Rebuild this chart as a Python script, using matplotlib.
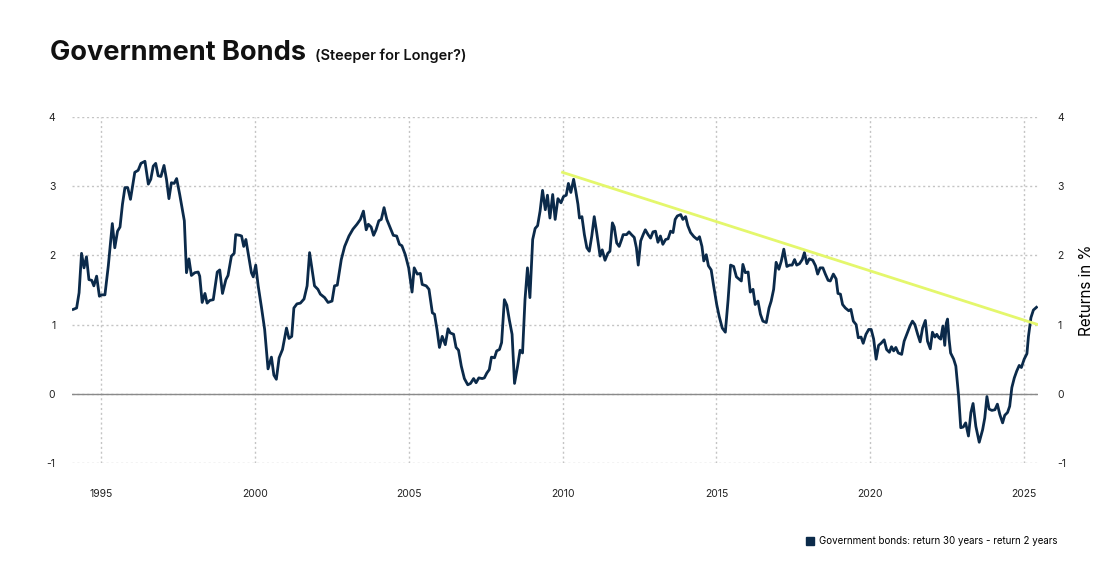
import matplotlib
matplotlib.use("Agg")
import matplotlib.pyplot as plt
from matplotlib.lines import Line2D

plt.rcParams['font.family'] = ['Inter', 'DejaVu Sans']
plt.rcParams['axes.unicode_minus'] = False

# spread 30y - 2y government bond returns (decimal years)
years = [
    1994.10, 1994.21, 1994.29, 1994.37, 1994.45, 1994.53, 1994.61, 1994.70, 1994.77, 1994.86,
    1994.95, 1995.02, 1995.13, 1995.24, 1995.37, 1995.45, 1995.54, 1995.62, 1995.70, 1995.78,
    1995.87, 1995.96, 1996.10, 1996.21, 1996.30, 1996.43, 1996.54, 1996.62, 1996.70, 1996.78,
    1996.86, 1996.95, 1997.05, 1997.13, 1997.21, 1997.29, 1997.38, 1997.46, 1997.56, 1997.71,
    1997.78, 1997.86, 1997.94, 1998.05, 1998.16, 1998.21, 1998.29, 1998.38, 1998.45, 1998.54,
    1998.65, 1998.78, 1998.86, 1998.95, 1999.06, 1999.13, 1999.24, 1999.33, 1999.38, 1999.51,
    1999.57, 1999.64, 1999.71, 1999.82, 1999.89, 1999.95, 2000.03, 2000.11, 2000.22, 2000.32,
    2000.43, 2000.54, 2000.62, 2000.70, 2000.79, 2000.90, 2001.03, 2001.11, 2001.20, 2001.27,
    2001.37, 2001.48, 2001.60, 2001.70, 2001.78, 2001.87, 2001.94, 2002.05, 2002.13, 2002.27,
    2002.38, 2002.51, 2002.59, 2002.68, 2002.81, 2002.92, 2003.06, 2003.19, 2003.32, 2003.43,
    2003.53, 2003.62, 2003.69, 2003.78, 2003.86, 2003.94, 2004.03, 2004.11, 2004.20, 2004.29,
    2004.40, 2004.50, 2004.61, 2004.70, 2004.78, 2004.89, 2005.00, 2005.11, 2005.18, 2005.28,
    2005.38, 2005.44, 2005.57, 2005.66, 2005.77, 2005.84, 2005.92, 2006.00, 2006.09, 2006.19,
    2006.28, 2006.35, 2006.46, 2006.54, 2006.62, 2006.71, 2006.81, 2006.92, 2007.01, 2007.11,
    2007.19, 2007.28, 2007.39, 2007.46, 2007.54, 2007.62, 2007.69, 2007.79, 2007.86, 2007.95,
    2008.02, 2008.11, 2008.19, 2008.27, 2008.36, 2008.44, 2008.54, 2008.62, 2008.70, 2008.78,
    2008.86, 2008.94, 2009.03, 2009.11, 2009.19, 2009.27, 2009.35, 2009.44, 2009.51, 2009.59,
    2009.68, 2009.76, 2009.85, 2009.95, 2010.03, 2010.12, 2010.19, 2010.27, 2010.36, 2010.43,
    2010.50, 2010.55, 2010.63, 2010.71, 2010.79, 2010.87, 2010.95, 2011.03, 2011.11, 2011.22,
    2011.29, 2011.38, 2011.47, 2011.54, 2011.62, 2011.68, 2011.76, 2011.84, 2011.92, 2011.97,
    2012.08, 2012.16, 2012.24, 2012.33, 2012.40, 2012.46, 2012.54, 2012.62, 2012.69, 2012.78,
    2012.86, 2012.94, 2013.02, 2013.10, 2013.18, 2013.26, 2013.35, 2013.43, 2013.51, 2013.59,
    2013.66, 2013.73, 2013.84, 2013.91, 2014.00, 2014.07, 2014.16, 2014.27, 2014.38, 2014.45,
    2014.53, 2014.59, 2014.67, 2014.74, 2014.83, 2014.91, 2015.01, 2015.09, 2015.19, 2015.29,
    2015.38, 2015.46, 2015.56, 2015.65, 2015.73, 2015.81, 2015.86, 2015.94, 2016.03, 2016.10,
    2016.19, 2016.26, 2016.35, 2016.43, 2016.51, 2016.62, 2016.71, 2016.78, 2016.86, 2016.94,
    2017.03, 2017.11, 2017.19, 2017.29, 2017.38, 2017.46, 2017.54, 2017.61, 2017.70, 2017.79,
    2017.86, 2017.94, 2018.02, 2018.13, 2018.22, 2018.29, 2018.37, 2018.46, 2018.54, 2018.63,
    2018.70, 2018.80, 2018.89, 2018.95, 2019.03, 2019.10, 2019.19, 2019.30, 2019.37, 2019.45,
    2019.54, 2019.61, 2019.70, 2019.77, 2019.86, 2019.95, 2020.03, 2020.11, 2020.19, 2020.27,
    2020.35, 2020.45, 2020.53, 2020.62, 2020.69, 2020.76, 2020.83, 2020.91, 2021.02, 2021.10,
    2021.21, 2021.29, 2021.37, 2021.45, 2021.54, 2021.62, 2021.70, 2021.79, 2021.86, 2021.95,
    2022.02, 2022.10, 2022.16, 2022.23, 2022.29, 2022.36, 2022.42, 2022.47, 2022.51, 2022.56,
    2022.61, 2022.71, 2022.78, 2022.87, 2022.94, 2023.02, 2023.10, 2023.19, 2023.27, 2023.34,
    2023.43, 2023.54, 2023.65, 2023.72, 2023.79, 2023.86, 2023.95, 2024.05, 2024.13, 2024.21,
    2024.30, 2024.37, 2024.46, 2024.53, 2024.60, 2024.68, 2024.76, 2024.84, 2024.91, 2025.00,
    2025.09, 2025.14, 2025.22, 2025.30, 2025.40,
]
spread = [
    1.22, 1.24, 1.46, 2.03, 1.82, 1.98, 1.65, 1.64, 1.56, 1.70,
    1.41, 1.43, 1.43, 1.85, 2.46, 2.11, 2.35, 2.41, 2.74, 2.98,
    2.98, 2.81, 3.20, 3.23, 3.33, 3.36, 3.03, 3.10, 3.29, 3.33,
    3.15, 3.14, 3.30, 3.10, 2.82, 3.05, 3.04, 3.11, 2.88, 2.50,
    1.75, 1.95, 1.71, 1.75, 1.76, 1.70, 1.32, 1.45, 1.31, 1.35,
    1.36, 1.76, 1.79, 1.45, 1.65, 1.71, 1.99, 2.03, 2.30, 2.29,
    2.28, 2.13, 2.23, 1.94, 1.75, 1.69, 1.86, 1.56, 1.24, 0.93,
    0.36, 0.53, 0.27, 0.21, 0.52, 0.64, 0.95, 0.80, 0.83, 1.24,
    1.30, 1.31, 1.37, 1.56, 2.04, 1.77, 1.56, 1.51, 1.44, 1.39,
    1.32, 1.34, 1.56, 1.57, 1.94, 2.13, 2.28, 2.38, 2.45, 2.52,
    2.64, 2.37, 2.45, 2.41, 2.29, 2.37, 2.50, 2.52, 2.69, 2.52,
    2.40, 2.29, 2.28, 2.16, 2.14, 2.01, 1.82, 1.47, 1.82, 1.73,
    1.74, 1.58, 1.56, 1.51, 1.17, 1.15, 0.93, 0.67, 0.83, 0.71,
    0.94, 0.88, 0.86, 0.67, 0.63, 0.40, 0.22, 0.13, 0.15, 0.22,
    0.16, 0.23, 0.22, 0.23, 0.30, 0.35, 0.53, 0.52, 0.62, 0.64,
    0.74, 1.36, 1.28, 1.07, 0.86, 0.15, 0.40, 0.63, 0.59, 1.36,
    1.82, 1.39, 2.23, 2.39, 2.43, 2.64, 2.94, 2.66, 2.87, 2.54,
    2.88, 2.52, 2.82, 2.76, 2.85, 2.87, 3.04, 2.91, 3.10, 2.93,
    2.74, 2.54, 2.56, 2.30, 2.11, 2.06, 2.28, 2.56, 2.33, 1.99,
    2.08, 1.93, 2.03, 2.06, 2.47, 2.41, 2.18, 2.13, 2.23, 2.30,
    2.30, 2.34, 2.30, 2.26, 2.11, 1.86, 2.21, 2.30, 2.37, 2.30,
    2.25, 2.34, 2.35, 2.19, 2.28, 2.16, 2.23, 2.24, 2.35, 2.33,
    2.52, 2.57, 2.59, 2.52, 2.56, 2.43, 2.33, 2.27, 2.23, 2.27,
    2.13, 1.92, 2.01, 1.85, 1.79, 1.56, 1.29, 1.12, 0.95, 0.89,
    1.36, 1.86, 1.84, 1.69, 1.66, 1.63, 1.87, 1.75, 1.76, 1.47,
    1.51, 1.29, 1.34, 1.15, 1.05, 1.03, 1.24, 1.34, 1.51, 1.90,
    1.80, 1.92, 2.09, 1.84, 1.86, 1.86, 1.94, 1.86, 1.88, 1.94,
    2.04, 1.88, 1.95, 1.93, 1.85, 1.73, 1.82, 1.82, 1.73, 1.64,
    1.63, 1.73, 1.66, 1.45, 1.44, 1.29, 1.24, 1.20, 1.22, 1.05,
    1.00, 0.81, 0.82, 0.73, 0.86, 0.93, 0.93, 0.79, 0.50, 0.70,
    0.73, 0.78, 0.64, 0.60, 0.68, 0.62, 0.67, 0.59, 0.57, 0.76,
    0.89, 0.98, 1.05, 1.00, 0.86, 0.75, 0.95, 1.06, 0.76, 0.65,
    0.89, 0.82, 0.86, 0.81, 0.79, 0.98, 0.70, 1.02, 1.08, 0.79,
    0.59, 0.50, 0.40, -0.03, -0.49, -0.48, -0.42, -0.61, -0.27, -0.14,
    -0.47, -0.70, -0.52, -0.35, -0.04, -0.22, -0.24, -0.23, -0.15, -0.30,
    -0.42, -0.31, -0.27, -0.18, 0.09, 0.23, 0.33, 0.41, 0.38, 0.50,
    0.58, 0.83, 1.10, 1.21, 1.25,
]

# trend line drawn over the peaks
trend_x = [2010.0, 2025.45]
trend_y = [3.2, 1.0]

year_ticks = [1995, 2000, 2005, 2010, 2015, 2020, 2025]
value_ticks = [-1, 0, 1, 2, 3, 4]

navy = '#0b2a4a'
lime = '#e4f76c'

fig = plt.figure(figsize=(11.1, 5.85), dpi=100)
ax = fig.add_axes([72/1110, 1 - 463/585, (1038 - 72)/1110, (463 - 117)/585])

ax.plot(years, spread, color=navy, lw=2.0, zorder=3, solid_joinstyle='round')
ax.plot(trend_x, trend_y, color=lime, lw=2.0, zorder=4)
ax.axhline(0, color='#8a8a8a', lw=1.0, zorder=2)

ax.set_xlim(1994.06, 2025.45)
ax.set_ylim(-1, 4)
ax.set_xticks(year_ticks)
ax.set_yticks(value_ticks)
ax.grid(True, color='#c4c4c4', ls=(0, (1.5, 2)), lw=1.0)
for s in ax.spines.values():
    s.set_visible(False)
ax.tick_params(length=0, labelsize=7.5, colors='#222222')
ax.tick_params(axis='x', pad=19)
ax.tick_params(axis='y', pad=12)

ax2 = ax.twinx()
ax2.set_ylim(-1, 4)
ax2.set_yticks(value_ticks)
for s in ax2.spines.values():
    s.set_visible(False)
ax2.tick_params(length=0, labelsize=7.5, colors='#222222', pad=14)
ax2.set_ylabel('Returns in %', fontsize=11, labelpad=9)

fig.text(50/1110, 1 - 60/585, 'Government Bonds', fontsize=19.5, fontweight='bold',
         va='baseline', ha='left', color='#111111')
fig.text(315/1110, 1 - 60/585, '(Steeper for Longer?)', fontsize=10.5, fontweight='semibold',
         va='baseline', ha='left', color='#111111')

handle = Line2D([], [], marker='s', ls='none', color=navy, markersize=6)
ax.legend([handle], ['Government bonds: return 30 years - return 2 years'],
          loc='center right', bbox_to_anchor=(1066/1110, 1 - 541/585),
          bbox_transform=fig.transFigure, frameon=False, fontsize=7,
          handletextpad=0.4, handlelength=1.0)

fig.savefig('out.png', dpi=100)
